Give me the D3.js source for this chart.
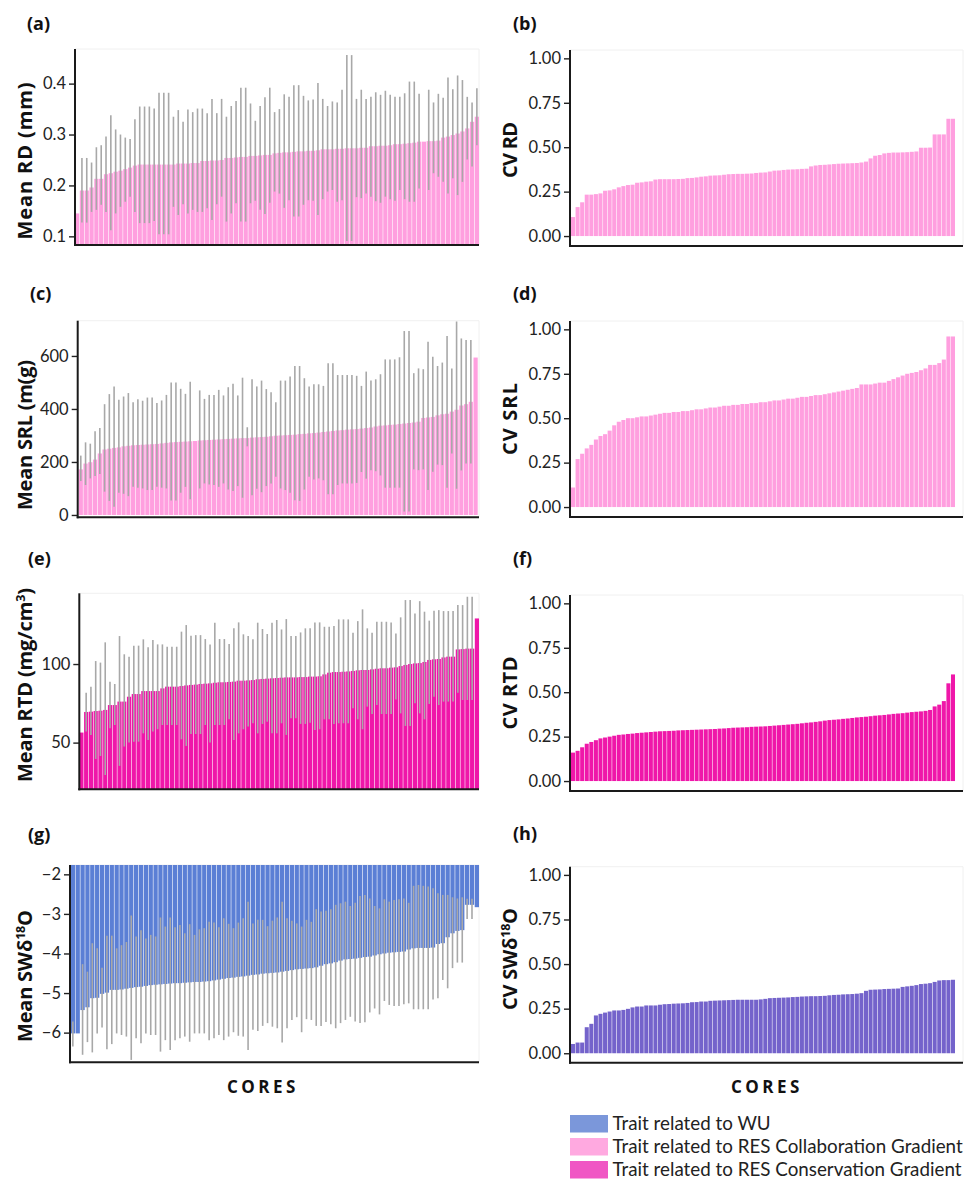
<!DOCTYPE html>
<html><head><meta charset="utf-8">
<script src="https://cdn.jsdelivr.net/npm/d3@7"></script>
<style>body{margin:0;background:#fff}svg{display:block}</style>
</head><body>
<svg id="chart" width="967" height="1180"></svg>
<script>
// ---------------- DATA ----------------
const cores = d3.range(1, 85); // 84 soil cores, sorted per panel

const rdMean = [0.145,0.19,0.19,0.196,0.213,0.213,0.222,0.224,0.227,0.229,
0.232,0.235,0.239,0.241,0.241,0.241,0.241,0.241,0.241,0.241,
0.241,0.243,0.243,0.243,0.244,0.244,0.248,0.248,0.249,0.249,
0.250,0.254,0.254,0.255,0.256,0.256,0.258,0.258,0.259,0.260,
0.260,0.263,0.264,0.265,0.265,0.266,0.267,0.267,0.268,0.268,
0.269,0.271,0.271,0.271,0.272,0.272,0.273,0.273,0.273,0.274,
0.274,0.277,0.277,0.278,0.278,0.279,0.281,0.281,0.282,0.283,
0.284,0.286,0.286,0.287,0.287,0.288,0.294,0.296,0.299,0.302,
0.306,0.312,0.325,0.335];
const rdHigh = [null,0.254,0.254,0.245,0.275,0.279,0.296,0.338,0.310,0.300,
0.294,0.291,0.330,0.355,0.355,0.355,0.351,0.382,0.382,0.382,
0.335,0.348,0.325,0.349,0.344,0.351,0.351,0.342,0.370,0.342,
0.370,0.335,0.356,0.366,0.392,0.392,0.361,0.327,0.356,0.373,
0.392,0.344,0.350,0.379,0.374,0.397,0.397,0.376,0.367,0.369,
0.401,0.370,0.356,0.365,0.363,0.388,0.456,0.456,0.370,0.388,
0.370,0.374,0.383,0.378,0.386,0.378,0.374,0.374,0.381,0.404,
0.404,0.380,null,0.388,0.363,0.380,0.372,0.412,0.389,0.416,
0.407,0.374,0.363,0.391];
const rdLow = [null,0.127,0.127,0.148,0.152,0.162,0.148,0.112,0.145,0.158,
0.168,0.178,0.148,0.126,0.126,0.126,0.130,0.104,0.104,0.104,
0.158,0.142,0.163,0.145,0.152,0.148,0.148,0.155,0.132,0.163,
0.178,0.129,0.145,0.165,0.129,0.129,0.165,0.170,0.152,0.144,
0.166,0.188,0.184,0.156,0.171,0.139,0.139,0.162,0.171,0.170,
0.142,0.173,0.188,0.191,0.168,0.171,0.091,0.091,0.177,0.175,
0.184,0.178,0.169,0.166,0.178,0.173,0.170,0.191,0.173,0.168,
0.168,0.194,null,0.191,0.224,0.217,0.207,0.184,0.214,0.181,
0.207,0.251,0.237,0.279];
const cvRD = [0.107,0.163,0.19,0.233,0.233,0.236,0.24,0.255,0.257,0.263,
0.274,0.281,0.287,0.289,0.300,0.302,0.306,0.308,0.318,0.32,
0.32,0.32,0.32,0.321,0.322,0.326,0.327,0.33,0.334,0.336,
0.34,0.341,0.342,0.345,0.348,0.349,0.35,0.35,0.351,0.352,
0.355,0.357,0.358,0.363,0.368,0.369,0.372,0.374,0.375,0.376,
0.378,0.379,0.392,0.397,0.40,0.401,0.403,0.405,0.407,0.408,
0.409,0.41,0.411,0.414,0.419,0.437,0.452,0.456,0.465,0.468,
0.47,0.47,0.471,0.472,0.474,0.476,0.497,0.497,0.498,0.572,
0.572,0.572,0.66,0.66];

const srlMean = [172,194,199,209,232,247,250,253,255,259,
261,263,264,265,266,267,268,270,272,274,
275,276,277,278,279,281,282,283,284,285,
286,287,288,289,290,290,292,293,294,295,
297,299,300,301,302,303,305,306,308,309,
311,313,315,317,319,320,322,323,324,326,
328,330,334,337,338,340,341,343,345,347,
349,352,366,368,370,376,380,382,390,397,
413,418,427,594];
const srlHigh = [224,274,269,316,328,418,456,485,435,447,
460,425,437,431,443,443,422,432,453,500,
500,476,457,503,null,470,438,453,453,472,
451,482,495,451,518,331,512,485,507,475,
463,425,507,507,522,562,562,516,485,493,
493,487,572,572,528,528,528,528,525,487,
541,507,512,531,587,587,587,595,694,694,
535,553,550,654,597,562,575,675,553,730,
666,660,660,null];
const srlLow = [128,113,138,147,155,88,53,31,84,80,
71,106,103,100,94,94,106,103,100,55,
55,84,106,59,null,100,119,115,113,106,
119,96,90,109,65,259,74,99,86,109,
119,144,100,94,84,56,53,96,144,134,
138,131,78,78,113,119,119,119,121,162,
137,169,165,149,103,103,103,103,13,13,
172,169,172,94,163,190,188,103,232,99,
168,194,194,null];
const cvSRL = [0.11,0.27,0.30,0.33,0.35,0.38,0.40,0.41,0.43,0.46,
0.48,0.49,0.50,0.50,0.505,0.51,0.51,0.515,0.52,0.525,
0.53,0.53,0.535,0.535,0.54,0.54,0.545,0.55,0.55,0.555,
0.56,0.56,0.565,0.57,0.57,0.575,0.575,0.58,0.58,0.585,
0.585,0.59,0.59,0.595,0.60,0.60,0.605,0.61,0.61,0.615,
0.62,0.62,0.625,0.63,0.63,0.635,0.64,0.645,0.65,0.655,
0.66,0.665,0.67,0.69,0.69,0.69,0.695,0.70,0.70,0.71,
0.72,0.73,0.74,0.75,0.755,0.76,0.77,0.78,0.80,0.80,
0.81,0.83,0.96,0.96];

const rtdMean = [56.4,69.5,69.7,70.1,70.3,70.8,73.9,73.9,76.1,76.1,
79.2,80.9,80.9,82.8,82.8,82.8,82.8,84.5,85.6,85.6,
85.6,86.0,86.4,86.7,86.9,87.3,87.5,87.7,88.1,88.4,
88.4,88.6,88.8,89.4,89.4,89.6,89.8,90.3,90.5,90.7,
90.9,91.1,91.3,91.5,91.5,91.5,91.7,91.7,92.0,92.0,
92.2,93.4,94.5,94.9,94.9,95.1,95.3,95.6,96.0,96.2,
96.2,96.6,97.0,97.3,97.3,97.7,97.9,98.7,99.4,100.0,
100.4,100.6,101.3,102.6,103.0,103.2,104.2,104.7,104.7,109.3,
109.5,109.8,109.8,129.0];
const rtdHigh = [null,81.8,85.6,101.9,100.9,113.8,88.8,87.3,117.8,106.2,
104.7,111.7,111.7,115.7,110.6,115.3,112.5,112.5,111,111,
111,120.6,124.8,118,118.4,118.4,115.9,112.5,126.3,115.9,
115.9,112.7,122.7,126.5,118.9,117.8,115.7,126.3,122.3,119.1,
126.3,128,122,128.6,117.8,117.8,120.1,122.7,122.7,126.5,
126.5,123.7,123.7,124.2,128.4,128.4,128.4,119.9,127.3,134.8,
122.7,119.9,126.9,126.9,126.9,126.5,119.5,129.7,140.7,140.7,
132.2,140,133.3,127.6,133.9,134.3,133.7,133.7,133.7,137.5,
137.5,142.8,142.8,null];
const rtdLow = [null,57,54.9,39.6,41.5,29.4,59.1,61.2,35.2,47.5,
50,50.6,50.6,55.9,51.7,57,58.5,61.2,61.2,61.2,
61.2,52.1,47.9,55.5,55.5,55.5,61.2,50,61.2,61.2,
61.2,64.8,51.7,55.9,58.5,60.2,62.3,55.9,61.9,63.3,
55.9,55.9,62.3,54.9,65.5,65.5,61.9,61.9,62.7,58.1,
58.5,64.8,64.8,61.9,62.3,62.3,62.3,71.8,64.8,58.5,
72.9,68.2,73.9,68.2,68.2,68.2,77.5,68.6,60.6,60.6,
75,68.6,64.8,74.6,79.2,73.9,76.1,76.1,76.1,81.8,
77.1,77.1,77.1,null];
const cvRTD = [0.16,0.17,0.19,0.21,0.22,0.23,0.24,0.245,0.25,0.255,
0.26,0.262,0.265,0.267,0.27,0.272,0.274,0.276,0.278,0.28,
0.281,0.282,0.283,0.285,0.286,0.287,0.288,0.289,0.29,0.291,
0.292,0.293,0.295,0.296,0.298,0.30,0.301,0.302,0.303,0.305,
0.306,0.307,0.308,0.31,0.312,0.314,0.316,0.318,0.32,0.322,
0.325,0.328,0.33,0.333,0.336,0.34,0.343,0.345,0.347,0.35,
0.352,0.355,0.358,0.36,0.362,0.365,0.368,0.37,0.372,0.375,
0.378,0.38,0.382,0.385,0.388,0.39,0.392,0.395,0.40,0.42,
0.43,0.45,0.55,0.60];

const swMean = [-6.02,-6.02,-5.43,-5.36,-5.13,-5.12,-5.02,-4.99,-4.92,-4.92,
-4.91,-4.89,-4.87,-4.85,-4.84,-4.82,-4.80,-4.79,-4.78,-4.77,
-4.76,-4.75,-4.75,-4.74,-4.73,-4.72,-4.72,-4.71,-4.70,-4.68,
-4.66,-4.64,-4.62,-4.61,-4.59,-4.58,-4.56,-4.54,-4.53,-4.51,
-4.50,-4.49,-4.48,-4.46,-4.44,-4.42,-4.40,-4.39,-4.38,-4.37,
-4.35,-4.31,-4.27,-4.25,-4.22,-4.18,-4.15,-4.14,-4.13,-4.11,
-4.09,-4.08,-4.05,-4.02,-4.00,-3.98,-3.97,-3.96,-3.95,-3.90,
-3.87,-3.86,-3.86,-3.86,-3.85,-3.76,-3.74,-3.59,-3.49,-3.43,
-3.41,-2.77,-2.77,-2.83];
const swHigh = [-5.72,null,-4.27,-4.46,-3.74,-3.87,-4.36,-3.55,-3.55,-3.87,
-3.79,-3.71,-3.04,-3.57,-3.41,-3.62,-3.53,-3.57,-3.09,-3.32,
-3.09,-3.34,-3.28,-3.49,-3.26,-3.53,-3.39,-3.36,-3.20,-3.22,
-3.34,-3.11,-3.25,-3.36,-3.22,-3.11,-2.69,-3.24,-3.15,-3.15,
-3.31,-3.17,-3.09,-2.69,-3.11,-3.17,-3.24,-3.32,-3.15,-3.20,
-2.88,-2.94,-2.92,-2.88,-2.77,-2.73,-2.69,-2.80,-2.72,-2.55,
-2.52,-2.61,-2.80,-2.86,-2.63,-2.69,-2.65,-2.63,-2.61,-2.72,
-2.29,-2.27,-2.29,-2.31,-2.35,-2.48,-2.52,-2.52,-2.58,-2.61,
-2.58,-2.62,-2.62,null];
const swLow = [-6.35,null,-6.56,-6.24,-6.50,-6.02,-5.87,-6.42,-6.29,-6.02,
-6.06,-6.10,-6.69,-6.14,-6.27,-6.02,-6.06,-6.06,-6.48,-6.19,
-6.44,-6.19,-6.14,-6.10,-6.23,-6.02,-6.02,-6.02,-6.19,-6.14,
-6.06,-6.19,-6.10,-5.99,-6.08,-6.10,-6.44,-5.93,-5.96,-5.83,
-5.76,-5.85,-5.89,-6.25,-5.89,-5.68,-5.61,-5.99,-5.66,-5.68,
-5.83,-5.83,-5.73,-5.79,-5.89,-5.76,-5.68,-5.60,-5.72,-5.76,
-5.74,-5.49,-5.39,-5.54,-5.20,-5.30,-5.33,-5.33,-5.28,-5.26,
-5.41,-5.41,-5.41,-5.41,-5.16,-5.13,-4.67,-4.88,-4.37,-4.23,
-4.23,-3.13,-3.13,null];
const cvSW = [0.052,0.06,0.06,0.146,0.165,0.212,0.221,0.228,0.234,0.24,
0.24,0.243,0.249,0.257,0.262,0.262,0.268,0.268,0.268,0.272,
0.275,0.276,0.278,0.279,0.28,0.282,0.286,0.287,0.29,0.29,
0.294,0.295,0.296,0.297,0.298,0.299,0.30,0.30,0.30,0.30,
0.30,0.302,0.305,0.309,0.31,0.311,0.312,0.313,0.315,0.316,
0.318,0.319,0.32,0.32,0.321,0.322,0.325,0.327,0.328,0.33,
0.331,0.332,0.334,0.337,0.35,0.356,0.357,0.358,0.36,0.361,
0.362,0.363,0.372,0.375,0.378,0.382,0.388,0.39,0.393,0.40,
0.408,0.41,0.41,0.412];

const cvTicks = [0, 0.25, 0.5, 0.75, 1];
const legendItems = ["Trait related to WU", "Trait related to RES Collaboration Gradient", "Trait related to RES Conservation Gradient"];

// ---------------- STYLE / LAYOUT ----------------
const FONT = "Lato, 'Open Sans', sans-serif";
const TFONT = "'Open Sans', Lato, sans-serif";
const C_COLLAB = "#ff9fdf", C_CONS = "#ef17a9", C_WU = "#5b7fd5", C_CVWU = "#7463cb";
const LEG_COLORS = ["#7b97da", "#ffa9e0", "#f056c4"];
const ERR = "#a8a8a8";
const fmt2 = d3.format(".2f");
const fmtMinus = d => (d < 0 ? "\u2212" + Math.abs(d) : String(d));

const panels = [
  {tag:"(a)", tx:27, ty:29.5, ax:75, bx0:75, bx1:479, right:479, top:49, bottom:245, domain:[0.083,0.468], ticks:[0.1,0.2,0.3,0.4], fmt:d3.format(".1f"), mean:rdMean, lo:rdLow, hi:rdHigh, color:C_COLLAB, title:["Mean RD (mm)"], tlen:157, titleX:31.5, titleY:161},
  {tag:"(b)", tx:513, ty:29.5, ax:570, bx0:571, bx1:955, right:963, top:50, bottom:246, domain:[-0.056,1.047], ticks:cvTicks, fmt:fmt2, mean:cvRD, color:C_COLLAB, title:["CV RD"], tlen:56, titleX:517, titleY:150},
  {tag:"(c)", tx:30, ty:299.5, ax:77.7, bx0:78.7, bx1:477.7, right:479, top:320.7, bottom:517.3, domain:[-8.8,733], ticks:[0,200,400,600], fmt:d3.format("d"), mean:srlMean, lo:srlLow, hi:srlHigh, color:C_COLLAB, title:["Mean SRL (m(g)"], tlen:150, titleX:31.7, titleY:435},
  {tag:"(d)", tx:513, ty:299.5, ax:570, bx0:571, bx1:955, right:963, top:321, bottom:517, domain:[-0.056,1.047], ticks:cvTicks, fmt:fmt2, mean:cvSRL, color:C_COLLAB, title:["CV SRL"], tlen:72, titleX:517, titleY:419},
  {tag:"(e)", tx:28, ty:564.5, ax:79.3, bx0:79.3, bx1:479, right:479, top:593.3, bottom:789.3, domain:[20.3,145], ticks:[50,100], fmt:d3.format("d"), mean:rtdMean, lo:rtdLow, hi:rtdHigh, color:C_CONS, title:["Mean RTD (mg/cm", {sup:"3"}, ")"], tlen:194, titleX:31.7, titleY:685},
  {tag:"(f)", tx:513, ty:564.5, ax:570, bx0:571, bx1:955, right:963, top:595, bottom:791, domain:[-0.056,1.047], ticks:cvTicks, fmt:fmt2, mean:cvRTD, color:C_CONS, title:["CV RTD"], tlen:73, titleX:517, titleY:693},
  {tag:"(g)", tx:28, ty:841, ax:70, bx0:70.7, bx1:479, right:479, top:865, bottom:1062.3, domain:[-6.75,-1.764], ticks:[-6,-5,-4,-3,-2], fmt:fmtMinus, mean:swMean, lo:swLow, hi:swHigh, color:C_WU, title:["Mean SW\u03b4", {sup:"18"}, "O"], tlen:132, titleX:31.7, titleY:976},
  {tag:"(h)", tx:513, ty:840, ax:570, bx0:571, bx1:955, right:963, top:866.7, bottom:1062.7, domain:[-0.053,1.046], ticks:cvTicks, fmt:fmt2, mean:cvSW, color:C_CVWU, title:["CV SW\u03b4", {sup:"18"}, "O"], tlen:102, titleX:516.7, titleY:959}
];

// ---------------- DRAW ----------------
const svg = d3.select("#chart").style("font-family", FONT);
svg.append("rect").attr("width", 967).attr("height", 1180).attr("fill", "#fff");

panels.forEach(p => {
  const g = svg.append("g");
  const x = d3.scaleBand().domain(cores).range([p.bx0, p.bx1]).paddingInner(0.12).paddingOuter(0);
  const y = d3.scaleLinear().domain(p.domain).range([p.bottom, p.top]).clamp(true);
  const base = y(0);

  g.append("path").attr("d", `M${p.ax},${p.top}H${p.right}V${p.bottom}`)
    .attr("fill", "none").attr("stroke", "#f0f0f0").attr("stroke-width", 1);

  g.selectAll("rect.bar").data(p.mean).join("rect").attr("class", "bar")
    .attr("x", (d, i) => x(cores[i]))
    .attr("width", x.bandwidth())
    .attr("y", d => Math.min(y(d), base))
    .attr("height", d => Math.abs(base - y(d)))
    .attr("fill", p.color);

  if (p.lo) {
    const idx = d3.range(p.mean.length).filter(i => p.lo[i] != null && p.hi[i] != null);
    g.selectAll("line.err").data(idx).join("line").attr("class", "err")
      .attr("x1", i => x(cores[i]) + x.bandwidth() / 2)
      .attr("x2", i => x(cores[i]) + x.bandwidth() / 2)
      .attr("y1", i => y(p.hi[i]))
      .attr("y2", i => y(p.lo[i]))
      .attr("stroke", ERR).attr("stroke-width", 1.6);
  }

  const ga = g.append("g").attr("transform", `translate(${p.ax},0)`)
    .call(d3.axisLeft(y).tickValues(p.ticks).tickFormat(p.fmt).tickSize(6).tickPadding(3));
  ga.select(".domain").remove();
  ga.selectAll(".tick line").attr("stroke", "#222").attr("stroke-width", 1.4);
  ga.selectAll(".tick text").attr("fill", "#222").style("font-size", "16.5px").style("font-family", FONT);

  g.append("line").attr("x1", p.ax).attr("x2", p.ax).attr("y1", p.top).attr("y2", p.bottom + 1)
    .attr("stroke", "#1a1a1a").attr("stroke-width", 2);
  g.append("line").attr("x1", p.ax - 1).attr("x2", p.right).attr("y1", p.bottom).attr("y2", p.bottom)
    .attr("stroke", "#1a1a1a").attr("stroke-width", 2);

  svg.append("text").attr("x", p.tx).attr("y", p.ty).text(p.tag)
    .style("font-family", TFONT).attr("font-weight", 700).attr("font-size", 18).attr("fill", "#111");

  const t = svg.append("text")
    .attr("transform", `translate(${p.titleX},${p.titleY}) rotate(-90)`)
    .attr("text-anchor", "middle").style("font-family", TFONT)
    .attr("font-weight", 700).attr("font-size", 20).attr("fill", "#111")
    .attr("textLength", p.tlen).attr("lengthAdjust", "spacing");
  let shiftBack = false;
  p.title.forEach(part => {
    if (typeof part === "string") {
      const s = t.append("tspan").text(part);
      if (shiftBack) { s.attr("dy", 7); shiftBack = false; }
    } else {
      t.append("tspan").attr("dy", -7).attr("font-size", 12.5).text(part.sup);
      shiftBack = true;
    }
  });
});

[[263, 1093], [767, 1093]].forEach(([cx, cy]) => {
  svg.append("text").attr("x", cx).attr("y", cy).attr("text-anchor", "middle")
    .style("font-family", TFONT).attr("font-weight", 700).attr("font-size", 17).attr("letter-spacing", 3.5)
    .attr("fill", "#111").text("CORES");
});

const lg = svg.append("g");
legendItems.forEach((name, i) => {
  lg.append("rect").attr("x", 570).attr("y", 1115 + i * 23).attr("width", 38).attr("height", 17.5)
    .attr("fill", LEG_COLORS[i]);
  lg.append("text").attr("x", 612.5).attr("y", 1130 + i * 23).attr("font-size", 18.8).attr("fill", "#222")
    .text(name);
});
</script>
</body></html>
